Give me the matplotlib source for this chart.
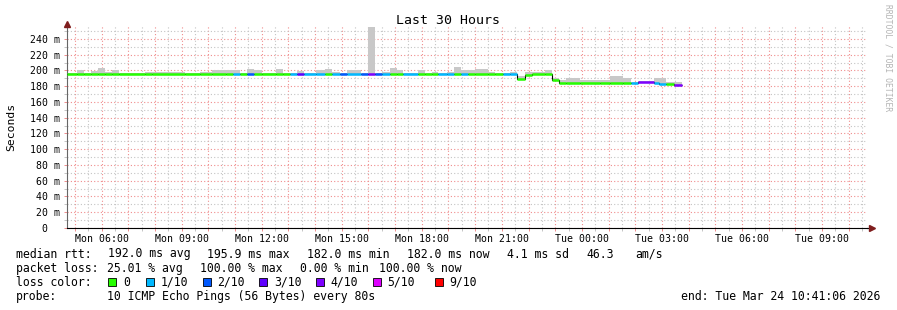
import matplotlib
matplotlib.use("Agg")
import matplotlib.pyplot as plt
from matplotlib.patches import Rectangle
import numpy as np

plt.rcParams['font.family'] = 'DejaVu Sans Mono'

# --- data (minutes since window start Mon 04:41:06, window = 30 h) ---
edges_min = [0, 24, 39, 55, 71, 87, 102, 118, 177, 192, 267, 300, 327, 359, 375,
             390, 406, 422, 440, 471, 487, 503, 519, 534, 561, 582, 597, 615, 631,
             663, 678, 694, 710, 728, 744, 757, 791, 807, 822, 836, 856, 872, 888,
             903, 919, 948, 964, 982, 998, 1014, 1032, 1047, 1077, 1092, 1108,
             1124, 1155, 1200, 1223, 1252, 1270, 1286, 1320, 1333, 1349, 1367, 1383]
median_ms = [195, 195, 195, 195, 195, 195, 195, 195, 195, 195, 195, 195, 195, 195,
             195, 195, 195, 195, 195, 195, 195, 195, 196, 195, 195, 195, 195, 195.5,
             195, 195, 196, 195, 195, 195, 195, 195, 195, 195, 195, 195, 195, 195,
             195, 195, 195, 195, 195, 195, 195, 189, 194, 195, 195, 188, 184, 184,
             184, 184, 184, 184, 184.5, 186, 184.5, 183, 182.5, 181.5]
smoke_hi_ms = [197, 200, 197, 199, 203, 198, 200.5, 197, 197.5, 197.5, 197, 197.5,
               200.5, 200.5, 200.5, 197, 202, 200, 197, 202, 197, 197, 199, 197,
               200, 202, 198, 197, 200, 197, 255, 197, 198.5, 203.5, 200.5, 197,
               200.5, 197, 198.5, 197, 198.5, 205, 200.5, 200.5, 202, 198.5, 197,
               197, 198.5, 193, 198, 198, 200.5, 191, 188, 190, 188.5, 188, 193,
               190.5, 186, 187, 190, 190, 186, 185]
loss_tenths = [0, 0, 0, 0, 0, 0, 0, 0, 0, 0, 0, 0, 0, 0, 1, 0, 2, 0, 0, 0, 0, 1, 3,
               1, 1, 0, 1, 2, 1, 2, 4, 2, 1, 0, 0, 1, 0, 0, 0, 1, 1, 0, 1, 0, 0, 0,
               0, 1, 1, 0, 0, 0, 0, 0, 0, 0, 0, 0, 0, 0, 1, 4, 1, 1, 0, 4]

loss_levels = [0, 1, 2, 3, 4, 5, 9]
loss_names = ['0', '1/10', '2/10', '3/10', '4/10', '5/10', '9/10']
loss_colors = {0: '#26ff00', 1: '#00b8ff', 2: '#0059ff', 3: '#5e00ff',
               4: '#7e00ff', 5: '#dd00ff', 9: '#ff0000'}

first_hour_min = 18.9  # Mon 05:00
xtick_labels = ['Mon 06:00', 'Mon 09:00', 'Mon 12:00', 'Mon 15:00', 'Mon 18:00',
                'Mon 21:00', 'Tue 00:00', 'Tue 03:00', 'Tue 06:00', 'Tue 09:00']

rtt_stats = [192.0, 195.9, 182.0, 182.0]   # avg max min now (ms)
rtt_sd = 4.1
rtt_am_s = 46.3
loss_stats = [25.01, 100.00, 0.00, 100.00]  # avg max min now (%)
probe_text = '10 ICMP Echo Pings (56 Bytes) every 80s'
end_text = 'end: Tue Mar 24 10:41:06 2026'

# --- figure ---
W, H = 897, 310
fig = plt.figure(figsize=(W / 100, H / 100), dpi=100)
ax = fig.add_axes([66.5 / W, 82 / H, 800.5 / W, 202 / H])

edges = np.array(edges_min, dtype=float)
med = np.array(median_ms)
hi = np.array(smoke_hi_ms)

# smoke
ax.bar(edges[:-1], hi - med, width=np.diff(edges), bottom=med, align='edge',
       color='#c8c8c8', linewidth=0, zorder=2)
# median: black step + loss colored segments
ax.stairs(med, edges, baseline=None, color='black', lw=0.8, zorder=3)
ax.hlines(med, edges[:-1], edges[1:], colors=[loss_colors[l] for l in loss_tenths],
          lw=1.8, zorder=4, capstyle='butt')

ax.set_xlim(0, 1800)
ax.set_ylim(0, 256.5)

# grid: hours (red) / half hours (gray), 20 ms (red) / 10 ms (gray)
hours = first_hour_min + 60 * np.arange(30)
halves = hours + 30
halves = halves[halves < 1800]
ax.set_xticks(hours)
labels = [''] * len(hours)
for i, lab in enumerate(xtick_labels):
    labels[1 + 3 * i] = lab
ax.set_xticklabels(labels)
ax.set_xticks(halves, minor=True)
ax.set_yticks(np.arange(0, 260, 20))
ax.set_yticklabels(['0  '] + [f'{v} m' for v in range(20, 260, 20)])
ax.set_yticks(np.arange(10, 260, 20), minor=True)

ax.grid(which='major', color='#f08c8c', linestyle=(0, (1, 2)), lw=0.8)
ax.grid(which='minor', color='#c4c4c4', linestyle=(0, (1, 2)), lw=0.8)
ax.set_axisbelow(True)
ax.tick_params(which='both', length=2, width=0.7, labelsize=7.1, pad=2)
ax.tick_params(axis='x', which='major', color='#f08c8c')
ax.tick_params(axis='x', which='minor', color='#c4c4c4')
ax.tick_params(axis='y', which='major', color='#f08c8c', pad=3)
ax.tick_params(axis='y', which='minor', color='#c4c4c4')

for s in ('top', 'right'):
    ax.spines[s].set_visible(False)
ax.spines['left'].set_color('#666666')
ax.spines['left'].set_linewidth(0.8)
ax.spines['bottom'].set_color('black')
ax.spines['bottom'].set_linewidth(0.8)

# axis arrows
ax.plot([0], [1.012], marker='^', ms=4.5, color='#7f1d1d', transform=ax.transAxes,
        clip_on=False, zorder=6)
ax.plot([1.0, 1.003], [0, 0], color='black', lw=0.8, transform=ax.transAxes,
        clip_on=False)
ax.plot([1.0058], [0], marker='>', ms=4.5, color='#7f1d1d', transform=ax.transAxes,
        clip_on=False, zorder=6)

# texts
fig.text(448 / W, 1 - 20 / H, 'Last 30 Hours', ha='center', va='center', fontsize=9.5)
fig.text(11 / W, 1 - 127 / H, 'Seconds', rotation=90, ha='center', va='center',
         fontsize=8.2)
fig.text(888 / W, 1 - 4 / H, 'RRDTOOL / TOBI OETIKER', rotation=270, ha='center',
         va='top', fontsize=5.8, color='#b4b4b4')

fs = 8.3
def put(x, y, s, **kw):
    fig.text(x / W, 1 - y / H, s, ha='left', va='center', fontsize=fs, **kw)

y1, y2, y3, y4 = 254, 268.3, 282.3, 296.3
put(16, y1, 'median rtt:')
for x, v, tag in zip([107.5, 207.3, 307.3, 407.3], rtt_stats, ['avg', 'max', 'min', 'now']):
    put(x, y1, f'{v:.1f} ms {tag}')
put(507.3, y1, f'{rtt_sd:.1f} ms sd')
put(586, y1, f'{rtt_am_s:.1f}')
put(635, y1, 'am/s')

put(16, y2, 'packet loss:')
for x, v, tag in zip([107.3, 200, 300, 379.3], loss_stats, ['avg', 'max', 'min', 'now']):
    put(x, y2, f'{v:.2f} % {tag}')

put(16, y3, 'loss color:')
box_x = [108.3, 145.7, 202.7, 259.3, 316.3, 373, 435]
for x, lvl, name in zip(box_x, loss_levels, loss_names):
    fig.add_artist(Rectangle((x / W, 1 - (y3 + 4) / H), 8 / W, 8 / H,
                             facecolor=loss_colors[lvl], edgecolor='black', lw=0.6,
                             transform=fig.transFigure))
    put(x + 14.5, y3, name)

put(16, y4, 'probe:')
put(107.3, y4, probe_text)
fig.text(880 / W, 1 - y4 / H, end_text, ha='right', va='center', fontsize=fs)

fig.savefig('out.png', dpi=100)
